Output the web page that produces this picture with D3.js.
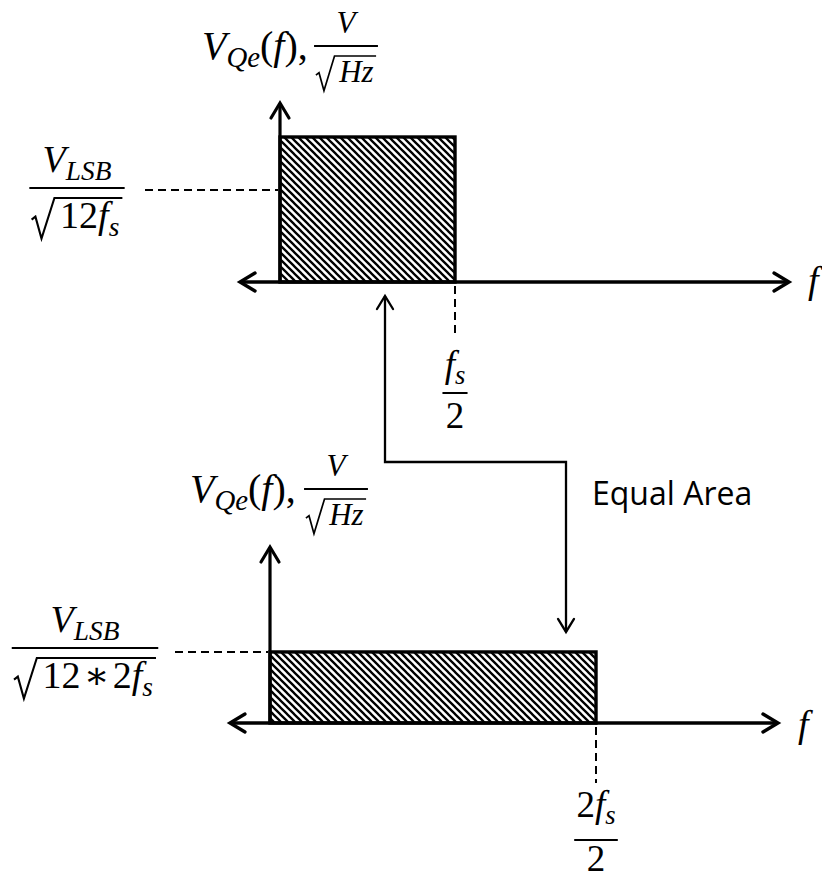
<!DOCTYPE html>
<html>
<head>
<meta charset="utf-8">
<script src="https://cdn.jsdelivr.net/npm/d3@7"></script>
<style>
  html, body { margin: 0; padding: 0; background: #fff; }
  svg { display: block; }
</style>
</head>
<body>
<script>
// Quantization-noise spectral density V_Qe(f): the flat band spreads over
// fs/2 at the base sample rate, and over 2fs/2 when the rate is doubled.

// ---- data ----
const panels = ["fs", "2fs"];
const bandEdges = [0.5, 1.0];          // upper band edge, in multiples of fs
const noiseLevels = [1.0, 0.49];       // relative noise density (V/√Hz)
const connectorF = [0.3, 0.908];       // where the "Equal Area" link meets each panel (× fs)
const connectorText = "Equal Area";
const xAxisTitle = "f";

// math labels as runs of [text, style]: i = italic, s = subscript, r = roman
const titleRuns = [["V", "i"], ["Qe", "is"], ["(", "r"], ["f", "i"], ["),", "r"]];
const titleNum = [["V", "i"]];
const titleDen = [["Hz", "i"]];
const levelNum = [[["V", "i"], ["LSB", "is"]], [["V", "i"], ["LSB", "is"]]];
const levelDen = [[["12", "r"], ["f", "i"], ["s", "is"]],
                  [["12\u200a\u2217\u200a2", "r"], ["f", "i"], ["s", "is"]]];
const edgeNum = [[["f", "i"], ["s", "is"]], [["2", "r"], ["f", "i"], ["s", "is"]]];
const edgeDen = [[["2", "r"]], [["2", "r"]]];

// ---- layout ----
const W = 822, H = 881;
const MATH = "'Liberation Serif', 'DejaVu Serif', serif";
const PX_PER_LEVEL = 145;
const layout = [
  { originX: 280, baseY: 282, pxPerFs: 350, axisLeft: 240, axisRight: 789, axisTop: 103,
    leaderY: 190, leaderX0: 145, levelCx: 77, levelBarY: 188, levelGaps: [16, 40],
    edgeLeaderEnd: 338, edgeBarY: 393, edgeGaps: [16, 35],
    titleX: 202, titleY: 59, titleFracCx: 346, titleBarY: 46, fX: 808, fY: 293 },
  { originX: 270, baseY: 723, pxPerFs: 326, axisLeft: 230, axisRight: 778, axisTop: 547,
    leaderY: 652, leaderX0: 175, levelCx: 85, levelBarY: 648, levelGaps: [16, 40],
    edgeLeaderEnd: 783, edgeBarY: 840, edgeGaps: [23, 31],
    titleX: 190, titleY: 502, titleFracCx: 336, titleBarY: 489, fX: 798, fY: 737 }
];

const svg = d3.select("body").append("svg").attr("width", W).attr("height", H);

// diagonal hatching for the noise band
svg.append("defs").append("pattern")
  .attr("id", "hatch").attr("patternUnits", "userSpaceOnUse")
  .attr("width", 7).attr("height", 7)
  .append("path")
  .attr("d", "M-1,-1 L8,8 M-1,6 L1,8 M6,-1 L8,1")
  .attr("stroke", "#000").attr("stroke-width", 2.3);

// ---- helpers ----
function mathRuns(parent, spec, size, x, y) {
  const t = parent.append("text").attr("x", x).attr("y", y)
    .attr("font-family", MATH).attr("font-size", size).attr("fill", "#000");
  let lowered = false;
  spec.forEach(([s, st]) => {
    const sub = st.includes("s");
    const ts = t.append("tspan").text(s)
      .attr("font-style", st.includes("i") ? "italic" : "normal");
    if (sub) {
      ts.attr("font-size", size * 0.72);
      if (!lowered) ts.attr("dy", size * 0.2);
    } else if (lowered) {
      ts.attr("dy", -size * 0.2);
    }
    lowered = sub;
  });
  return t;
}

// radical sign with overline, radicand set at baseline; returns total width
function radical(parent, spec, size, x0, baseline, overY) {
  const lead = size * 0.75;
  const t = mathRuns(parent, spec, size, x0 + lead, baseline);
  const w = t.node().getComputedTextLength();
  const xEnd = x0 + lead + w + size * 0.08;
  parent.append("path")
    .attr("d", `M${x0},${baseline - size * 0.22} L${x0 + size * 0.1},${baseline - size * 0.3}` +
               ` L${x0 + size * 0.26},${baseline + size * 0.28} L${x0 + size * 0.6},${overY} L${xEnd},${overY}`)
    .attr("fill", "none").attr("stroke", "#000").attr("stroke-width", size * 0.055)
    .attr("stroke-linejoin", "miter");
  return xEnd - x0;
}

function fraction(parent, cx, barY, num, den, size, root, gaps) {
  const g = parent.append("g");
  const nt = mathRuns(g, num, size, 0, barY - gaps[0]);
  const nw = nt.node().getComputedTextLength();
  const dgrp = g.append("g");
  let dw;
  if (root) {
    dw = radical(dgrp, den, size, 0, barY + gaps[1], barY + 10);
  } else {
    dw = mathRuns(dgrp, den, size, 0, barY + gaps[1]).node().getComputedTextLength();
  }
  const bw = Math.max(nw, dw) + size * 0.12;
  nt.attr("x", cx - nw / 2);
  dgrp.attr("transform", `translate(${cx - dw / 2},0)`);
  g.append("line")
    .attr("x1", cx - bw / 2).attr("x2", cx + bw / 2)
    .attr("y1", barY).attr("y2", barY)
    .attr("stroke", "#000").attr("stroke-width", 2);
}

function chevron(parent, x, y, dir, back, side, sw) {
  const d = { left: [-1, 0], right: [1, 0], up: [0, -1], down: [0, 1] }[dir];
  const px = -d[1], py = d[0];
  parent.append("path")
    .attr("d", `M${x - d[0] * back + px * side},${y - d[1] * back + py * side} L${x},${y}` +
               ` L${x - d[0] * back - px * side},${y - d[1] * back - py * side}`)
    .attr("fill", "none").attr("stroke", "#000").attr("stroke-width", sw)
    .attr("stroke-linecap", "round").attr("stroke-linejoin", "miter");
}

// ---- panels ----
const scales = panels.map((p, i) => {
  const L = layout[i];
  return {
    x: d3.scaleLinear().domain([0, 1]).range([L.originX, L.originX + L.pxPerFs]),
    y: d3.scaleLinear().domain([0, 1]).range([L.baseY, L.baseY - PX_PER_LEVEL])
  };
});

panels.forEach((p, i) => {
  const L = layout[i];
  const { x, y } = scales[i];
  const g = svg.append("g").attr("class", "panel-" + p);

  // noise band
  g.append("rect")
    .attr("x", x(0)).attr("y", y(noiseLevels[i]))
    .attr("width", x(bandEdges[i]) - x(0))
    .attr("height", y(0) - y(noiseLevels[i]))
    .attr("fill", "url(#hatch)")
    .attr("stroke", "#000").attr("stroke-width", 3.4);

  // axes
  g.append("line").attr("x1", L.axisLeft).attr("x2", L.axisRight)
    .attr("y1", y(0)).attr("y2", y(0))
    .attr("stroke", "#000").attr("stroke-width", 3.4);
  g.append("line").attr("x1", x(0)).attr("x2", x(0))
    .attr("y1", y(0)).attr("y2", L.axisTop)
    .attr("stroke", "#000").attr("stroke-width", 3.2);
  chevron(g, L.axisLeft, y(0), "left", 15, 9, 3.4);
  chevron(g, L.axisRight, y(0), "right", 15, 9, 3.4);
  chevron(g, x(0), L.axisTop, "up", 15, 9, 3.2);

  // leader lines
  g.append("line").attr("x1", L.leaderX0).attr("x2", x(0) - 2)
    .attr("y1", L.leaderY).attr("y2", L.leaderY)
    .attr("stroke", "#000").attr("stroke-width", 2).attr("stroke-dasharray", "8,5");
  g.append("line").attr("x1", x(bandEdges[i])).attr("x2", x(bandEdges[i]))
    .attr("y1", y(0) + 4).attr("y2", L.edgeLeaderEnd)
    .attr("stroke", "#000").attr("stroke-width", 2).attr("stroke-dasharray", "8,5");

  // level label
  fraction(g, L.levelCx, L.levelBarY, levelNum[i], levelDen[i], 38, true, L.levelGaps);
  // band-edge label
  fraction(g, x(bandEdges[i]), L.edgeBarY, edgeNum[i], edgeDen[i], 37, false, L.edgeGaps);

  // y-axis title
  mathRuns(g, titleRuns, 40, L.titleX, L.titleY);
  fraction(g, L.titleFracCx, L.titleBarY, titleNum, titleDen, 31, true, [13, 36]);

  // x-axis title
  g.append("text").attr("x", L.fX).attr("y", L.fY)
    .attr("font-family", MATH).attr("font-style", "italic").attr("font-size", 38)
    .text(xAxisTitle);
});

// ---- equal-area link between the panels ----
const topP = { x: scales[0].x(connectorF[0]), y: layout[0].baseY + 14 };
const botP = { x: scales[1].x(connectorF[1]), y: scales[1].y(noiseLevels[1]) - 20 };
const midY = 462;
svg.append("path")
  .attr("d", d3.line()([[topP.x, topP.y], [topP.x, midY], [botP.x, midY], [botP.x, botP.y]]))
  .attr("fill", "none").attr("stroke", "#000").attr("stroke-width", 2.3);
chevron(svg, topP.x, topP.y, "up", 13, 8, 2.3);
chevron(svg, botP.x, botP.y, "down", 13, 8, 2.3);

svg.append("text").attr("x", 592).attr("y", 505)
  .attr("font-family", "'Open Sans', sans-serif").attr("font-size", 32)
  .attr("fill", "#000")
  .text(connectorText);
</script>
</body>
</html>
